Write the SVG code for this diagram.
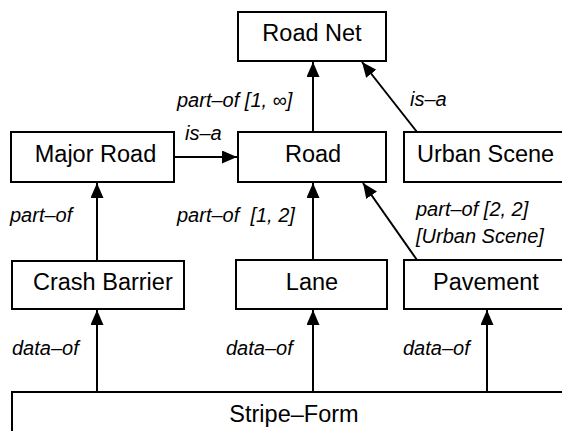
<svg xmlns="http://www.w3.org/2000/svg" width="562" height="431" viewBox="0 0 562 431">
<style>
rect{fill:#fff;stroke:#000;stroke-width:2}
.n{font-family:"Liberation Sans",Arial,sans-serif;font-size:23.5px;fill:#000}
.l{font-family:"Liberation Sans",Arial,sans-serif;font-size:20px;font-style:italic;fill:#000}
.c line{stroke:#000;stroke-width:2;marker-end:url(#ah)}
</style>
<defs>
<marker id="ah" markerUnits="userSpaceOnUse" markerWidth="15" markerHeight="14" refX="15" refY="6.5" orient="auto">
<path d="M0,0 L15,6.5 L0,13 z" fill="#000"/>
</marker>
</defs>
<rect width="562" height="431" style="stroke:none"/>
<g id="road-net"><rect x="238" y="12" width="148" height="49"/><text class="n" x="312" y="41" text-anchor="middle">Road Net</text></g>
<g id="major-road"><rect x="11" y="132" width="163" height="50"/><text class="n" x="95.5" y="162" text-anchor="middle">Major Road</text></g>
<g id="road"><rect x="238" y="132" width="148" height="50"/><text class="n" x="313" y="162" text-anchor="middle">Road</text></g>
<g id="urban-scene"><rect x="404" y="132" width="170" height="50"/><text class="n" x="417" y="162">Urban Scene</text></g>
<g id="crash-barrier"><rect x="12" y="261" width="172" height="48"/><text class="n" x="33" y="290">Crash Barrier</text></g>
<g id="lane"><rect x="236" y="260" width="151" height="49"/><text class="n" x="312" y="290" text-anchor="middle">Lane</text></g>
<g id="pavement"><rect x="404" y="260" width="170" height="49"/><text class="n" x="433" y="290">Pavement</text></g>
<g id="stripe-form"><rect x="12" y="392" width="562" height="60"/><text class="n" x="294" y="422" text-anchor="middle">Stripe–Form</text></g>
<g id="connectors" class="c">
<line x1="313" y1="132" x2="313" y2="62"/>
<line x1="417" y1="132" x2="362" y2="62"/>
<line x1="174" y1="157" x2="237" y2="157"/>
<line x1="97" y1="261" x2="97" y2="183"/>
<line x1="313" y1="260" x2="313" y2="183"/>
<line x1="417" y1="260" x2="363" y2="183"/>
<line x1="97" y1="392" x2="97" y2="310"/>
<line x1="313" y1="392" x2="313" y2="310"/>
<line x1="487" y1="392" x2="487" y2="310"/>
</g>
<g id="labels">
<text class="l" x="177" y="107">part–of [1, ∞]</text>
<text class="l" x="410" y="106">is–a</text>
<text class="l" x="185" y="140">is–a</text>
<text class="l" x="10" y="222">part–of</text>
<text class="l" x="177" y="222" xml:space="preserve">part–of  [1, 2]</text>
<text class="l" x="416" y="216">part–of [2, 2]</text>
<text class="l" x="416" y="243">[Urban Scene]</text>
<text class="l" x="12" y="355">data–of</text>
<text class="l" x="226" y="355">data–of</text>
<text class="l" x="403" y="355">data–of</text>
</g>
</svg>
